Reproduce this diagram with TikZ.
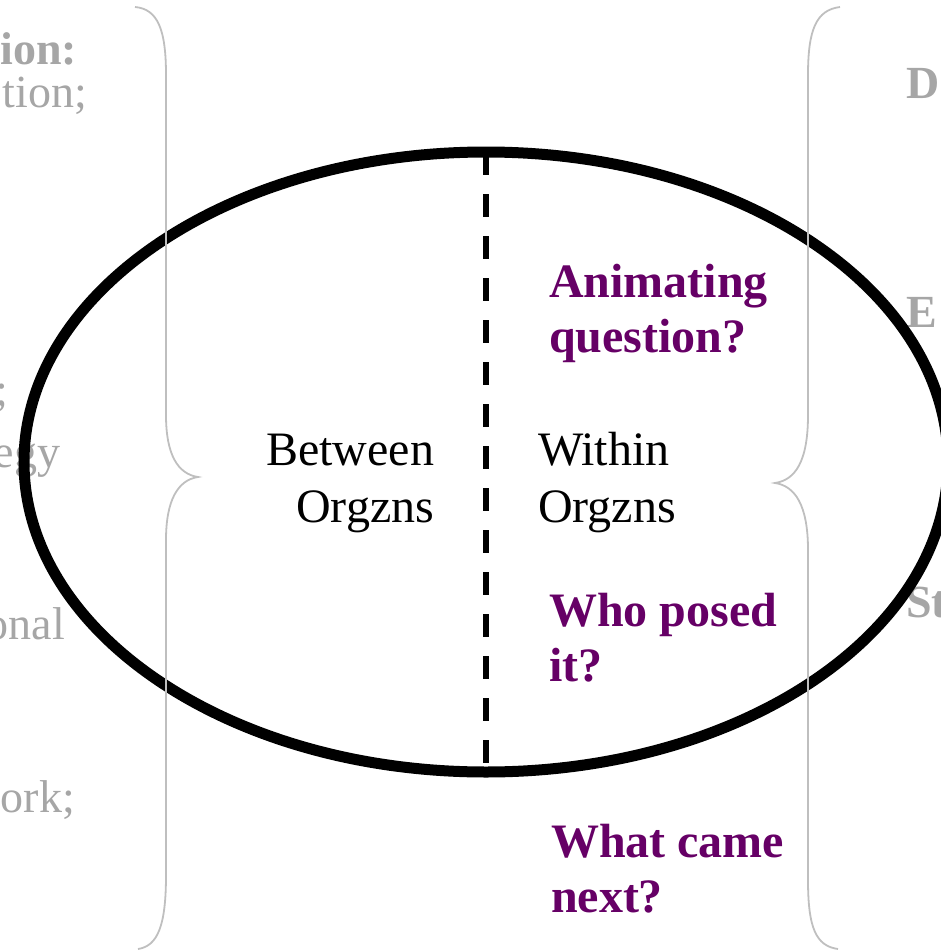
\documentclass[tikz,border=0pt]{standalone}
\usepackage{fontspec}
\setmainfont{Liberation Serif}
\usetikzlibrary{shapes.geometric}
\definecolor{plum}{HTML}{660066}
\definecolor{fadedtext}{HTML}{A6A6A6}
\definecolor{bracegrey}{HTML}{BFBFBF}

\begin{document}
\begin{tikzpicture}[x=1pt,y=-1pt,
  every node/.style={inner sep=0pt, outer sep=0pt},
  body/.style={font=\fontsize{48}{57}\selectfont, text=black},
  prompt/.style={font=\fontsize{48}{55}\selectfont\bfseries, text=plum, align=left, anchor=base west},
  faded/.style={font=\fontsize{46}{50}\selectfont, text=fadedtext},
  fadedbold/.style={font=\fontsize{46}{50}\selectfont\bfseries, text=fadedtext},
  brace/.style={draw=bracegrey, line width=1.8pt},
]
\useasboundingbox (0,0) rectangle (940,950);

% side columns, mostly outside the frame
\node[fadedbold, anchor=base east] (lhead) at (77,65) {ion:};
\node[faded, anchor=base east] (lline) at (87,107) {tion;};
\node[faded, anchor=base east] (lsemi) at (8,405) {;};
\node[faded, anchor=base east] (legy) at (60,467) {egy};
\node[faded, anchor=base east] (lonal) at (65,639) {onal};
\node[faded, anchor=base east] (lork) at (75,812) {ork;};
\node[fadedbold, anchor=base west] (rD) at (906,98) {D};
\node[fadedbold, anchor=base west] (rE) at (906,327) {E};
\node[fadedbold, anchor=base west] (rSt) at (906,617) {St};

% the oval and its dividing line
\node[draw, line width=11pt, ellipse, minimum width=924pt, minimum height=620pt] (oval) at (486,462) {};
\draw[line width=6pt, dash pattern=on 23pt off 19pt] (oval.north) -- (oval.south);

% labels (anchored on the baseline of their last line)
\node[body, align=right, anchor=base east] (between) at (434,522) {Between\\Orgzns};
\node[body, align=left, anchor=base west] (within) at (538,522) {Within\\Orgzns};
\node[prompt] (animq) at (549,352) {Animating\\question?};
\node[prompt] (whoq) at (549,681) {Who posed\\it?};
\node[prompt] (nextq) at (551,912) {What came\\next?};

% braces
\draw[brace] (135,7) .. controls (158,9) and (166,30) .. (166,75) -- (166,415)
  .. controls (166,455) and (178,474) .. (198,477)
  .. controls (178,480) and (166,500) .. (166,540) -- (166,875)
  .. controls (166,925) and (158,946) .. (138,949);
\draw[brace] (840,7) .. controls (816,10) and (808,30) .. (808,75) -- (808,415)
  .. controls (808,462) and (795,480) .. (775,483)
  .. controls (795,486) and (808,505) .. (808,550) -- (808,880)
  .. controls (808,928) and (816,946) .. (838,949);
\end{tikzpicture}
\end{document}
